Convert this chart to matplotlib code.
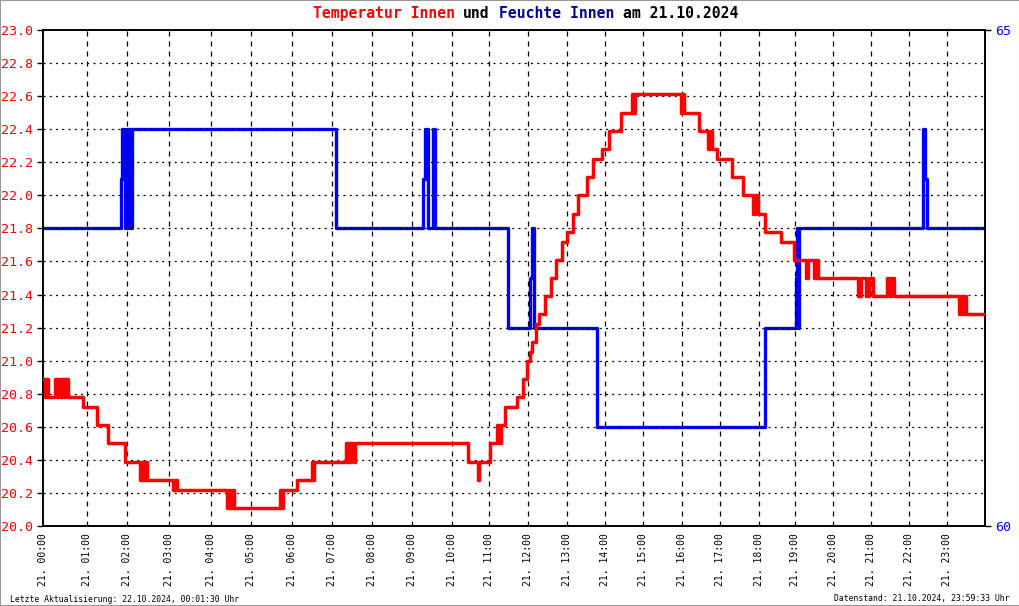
import matplotlib
matplotlib.use("Agg")
import matplotlib.pyplot as plt
from matplotlib.patches import Rectangle

# x runs 0..24 across the plot span; the original's hour lines are not evenly spaced
# Temperatur Innen (step values)
temp_t = [0.0, 0.031, 0.069, 0.107, 0.298, 0.349, 0.375, 0.451, 0.477, 0.528, 0.553, 0.629,
          1.019, 1.369, 1.657, 2.082, 2.464, 2.503, 2.554, 2.592, 2.643,
          3.306, 3.357, 3.395, 4.674, 4.720, 4.758, 4.809, 4.860,
          6.032, 6.071, 6.109, 6.458, 6.840, 6.868, 6.899,
          7.715, 7.766, 7.817, 7.894, 7.945, 10.816, 11.079, 11.104,
          11.385, 11.563, 11.614, 11.665, 11.767, 12.065, 12.218, 12.335, 12.404, 12.455,
          12.557, 12.641, 12.786, 12.931, 13.059, 13.212, 13.339, 13.507, 13.620, 13.849,
          14.017, 14.231, 14.425, 14.723, 14.996, 15.042, 15.080,
          16.245, 16.278, 16.329, 16.719, 16.948, 16.992, 17.043, 17.162, 17.545, 17.840,
          18.088, 18.139, 18.215, 18.394, 18.801, 19.133,
          19.438, 19.489, 19.642, 19.693, 19.744,
          20.763, 20.840, 20.967, 21.043, 21.145, 21.502, 21.553, 21.604, 21.681,
          23.325, 23.376, 23.427, 23.465, 23.503, 24.0]
temp_v = [20.89, 20.78, 20.89, 20.78, 20.89, 20.78, 20.89, 20.78, 20.89, 20.78, 20.89, 20.78,
          20.72, 20.61, 20.50, 20.39, 20.28, 20.39, 20.28, 20.39, 20.28,
          20.22, 20.28, 20.22, 20.11, 20.22, 20.11, 20.22, 20.11,
          20.22, 20.11, 20.22, 20.28, 20.39, 20.28, 20.39,
          20.50, 20.39, 20.50, 20.39, 20.50, 20.39, 20.28, 20.39,
          20.50, 20.61, 20.50, 20.61, 20.72, 20.78, 20.89, 21.00, 21.05, 21.11,
          21.22, 21.28, 21.39, 21.50, 21.61, 21.72, 21.78, 21.89, 22.00, 22.11,
          22.22, 22.28, 22.39, 22.50, 22.61, 22.50, 22.61,
          22.50, 22.61, 22.50, 22.39, 22.28, 22.39, 22.28, 22.22, 22.11, 22.00,
          21.89, 22.00, 21.89, 21.78, 21.72, 21.61,
          21.50, 21.61, 21.50, 21.61, 21.50,
          21.39, 21.50, 21.39, 21.50, 21.39, 21.50, 21.39, 21.50, 21.39,
          21.28, 21.39, 21.28, 21.39, 21.28, 21.28]

# Feuchte Innen
hum_t = [0.0, 1.980, 2.006, 2.082, 2.126, 2.171, 2.197, 2.235, 2.255,
         7.460, 9.685, 9.715, 9.753, 9.779, 9.812, 9.924, 9.990,
         11.851, 12.404, 12.442, 12.493, 14.104, 18.394,
         19.184, 19.209, 19.235, 19.260, 22.420, 22.471, 22.509, 24.0]
hum_v = [63, 63.5, 64, 63, 64, 63, 64, 63, 64,
         63, 63.5, 64, 63.5, 64, 63, 64, 63,
         62, 62.5, 63, 62, 61, 62,
         62.5, 63, 62, 63, 64, 63.5, 63, 63]

# where each full hour sits on the x span
hour_pos = [0.0, 1.101, 2.141, 3.211, 4.261, 5.286, 6.346, 7.358, 8.385, 9.404,
            10.403, 11.367, 12.345, 13.339, 14.315, 15.292, 16.270, 17.246, 18.228,
            19.165, 20.134, 21.094, 22.071, 23.039]
hour_labels = ["21. %02d:00" % h for h in range(24)]
temp_ticks = [20.0 + 0.2 * i for i in range(16)]

mono = "DejaVu Sans Mono"

fig = plt.figure(figsize=(10.2, 6.06), dpi=100)
ax = fig.add_axes([0.0425, 0.132, 0.9232, 0.8185])
ax2 = ax.twinx()

# grid
for h in hour_pos[1:]:
    ax.axvline(h, color="black", lw=0.9, ls=(0, (4, 4)), zorder=0)
for v in temp_ticks[1:-1]:
    ax.axhline(v, color="black", lw=0.9, ls=(0, (1.6, 3.4)), zorder=0)

ax.step(temp_t, temp_v, where="post", color="#ff0000", lw=2.5, zorder=3)
ax2.step(hum_t, hum_v, where="post", color="#0000ff", lw=2.4, zorder=2)

ax.set_xlim(0, 24)
ax.set_ylim(20.0, 23.0)
ax2.set_ylim(60, 65)

ax.set_yticks(temp_ticks)
ax.set_yticklabels(["%.1f" % v for v in temp_ticks], color="#ff0000",
                   fontsize=9.6, family=mono)
ax.tick_params(axis="y", direction="out", length=4, width=1, pad=3.5)

ax.set_xticks(hour_pos)
ax.set_xticklabels(hour_labels, rotation=90, fontsize=7, family=mono)
ax.tick_params(axis="x", length=0, pad=5)

ax2.set_yticks([60, 65])
ax2.set_yticklabels(["60", "65"], color="#0000ff", fontsize=9.6, family=mono)
ax2.tick_params(axis="y", direction="out", length=4, width=1, pad=3.5)

for a in (ax, ax2):
    for s in a.spines.values():
        s.set_linewidth(1.2)
        s.set_color("black")

# red on top of blue
ax.set_zorder(ax2.get_zorder() + 1)
ax.patch.set_visible(False)

# title in coloured pieces (monospace, so place by character count)
parts = [("Temperatur Innen", "#ff0000"), ("und", "black"),
         ("Feuchte Innen", "#00009c"), ("am 21.10.2024", "black")]
char_w = 10.6 * 100 / 72 * 0.602
pos = 0
for txt, col in parts:
    fig.text((312.7 + pos * char_w) / 1020, 0.9785, txt, color=col, fontsize=10.6,
             family=mono, weight="bold", ha="left", va="center")
    pos += len(txt) + 1

fig.text(10 / 1020, 1 - 599 / 606, "Letzte Aktualisierung: 22.10.2024, 00:01:30 Uhr",
         fontsize=5.9, family=mono, ha="left", va="center")
fig.text(1010 / 1020, 1 - 599 / 606, "Datenstand: 21.10.2024, 23:59:33 Uhr",
         fontsize=5.9, family=mono, ha="right", va="center")

fig.patches.append(Rectangle((0, 0), 1, 1, transform=fig.transFigure, fill=False,
                             edgecolor="#999999", lw=1.5))

fig.savefig("out.png", dpi=100)
